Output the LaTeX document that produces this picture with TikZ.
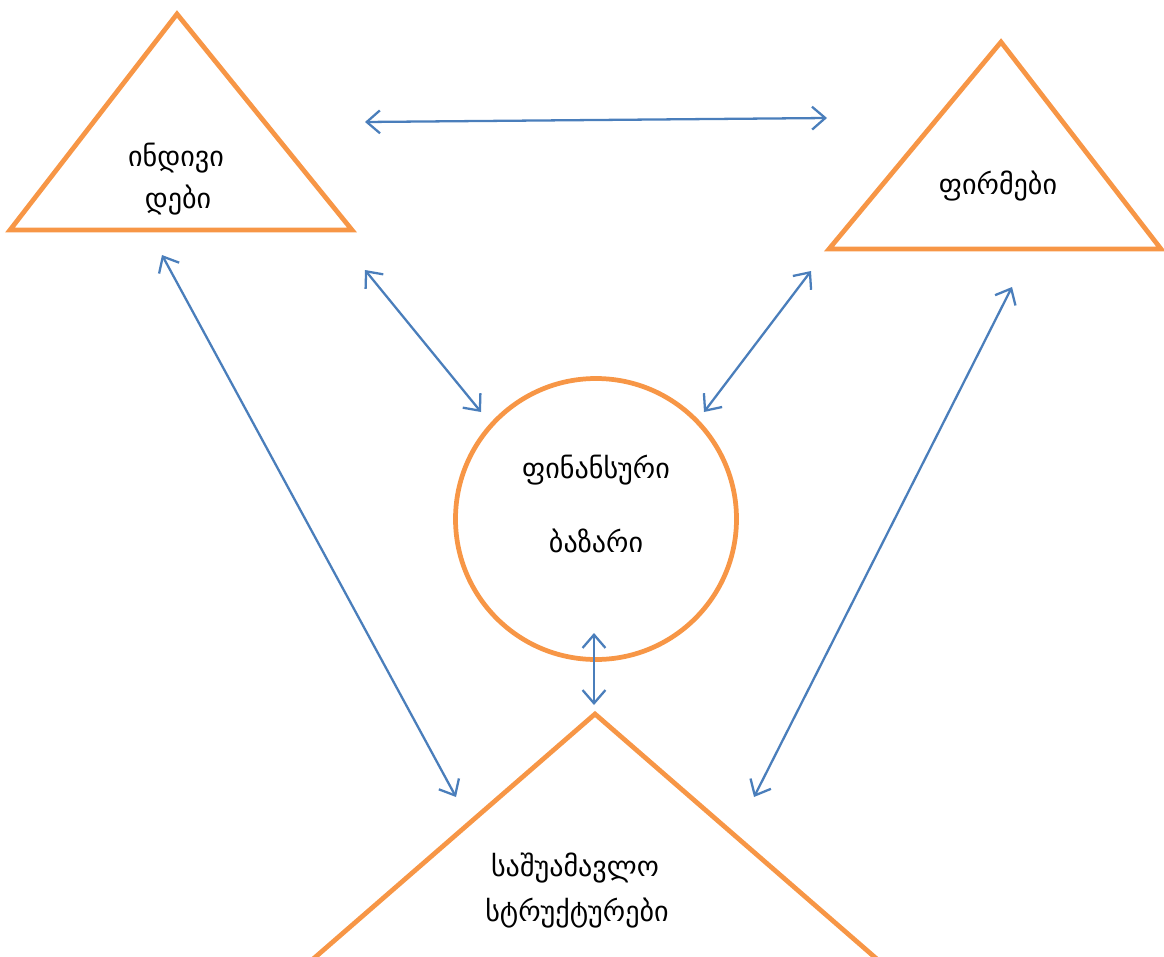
\documentclass[tikz,border=0pt]{standalone}
\usepackage{fontspec}
\setmainfont{DejaVu Sans}
\usetikzlibrary{arrows.meta}
\definecolor{orange}{HTML}{F79646}
\definecolor{blue}{HTML}{4A7EBB}
\tikzset{
  outline/.style={color=orange, line width=2.7pt, line join=miter},
  link/.style={color=blue, line width=1.3pt, {Straight Barb[length=7.5pt,width=13pt]}-{Straight Barb[length=7.5pt,width=13pt]}},
  txt/.style={font=\fontsize{16}{20}\selectfont, align=center}
}
\begin{document}
\begin{tikzpicture}[x=0.02cm,y=-0.02cm]
      \useasboundingbox (0,0) rectangle (1164,957);
      \draw [outline] (177,14) -- (352,230) -- (10,230) -- cycle;
      \draw [outline] (1001,42) -- (1161,249) -- (829,249) -- cycle;
      \draw [outline] (595,714) -- (878,960) -- (312,960) -- cycle;
      \node [outline, draw, circle, minimum size=281*0.02cm, inner sep=0pt] (market) at (596,519) {};
      \node [txt] (ind1) at (176,158) {ინდივი};
      \node [txt] (ind2) at (178,200) {დები};
      \node [txt] (firms) at (998,186) {ფირმები};
      \node [txt] (fin1) at (596,470) {ფინანსური};
      \node [txt] (fin2) at (596,541) {ბაზარი};
      \node [txt] (mid1) at (575,868) {საშუამავლო};
      \node [txt] (mid2) at (577,913) {სტრუქტურები};
      % arrow ends
      \coordinate (a1) at (365,122); \coordinate (a2) at (827,118);
      \coordinate (b1) at (162,255); \coordinate (b2) at (456,797);
      \coordinate (c1) at (365,270); \coordinate (c2) at (481,412);
      \coordinate (d1) at (811,271); \coordinate (d2) at (704,412);
      \coordinate (e1) at (1012,287); \coordinate (e2) at (754,797);
      \coordinate (f1) at (594,633); \coordinate (f2) at (594,705);
      \draw [link] (a1) -- (a2);
      \draw [link] (b1) -- (b2);
      \draw [link] (c1) -- (c2);
      \draw [link] (d1) -- (d2);
      \draw [link] (e1) -- (e2);
      \draw [link] (f1) -- (f2);
\end{tikzpicture}
\end{document}
